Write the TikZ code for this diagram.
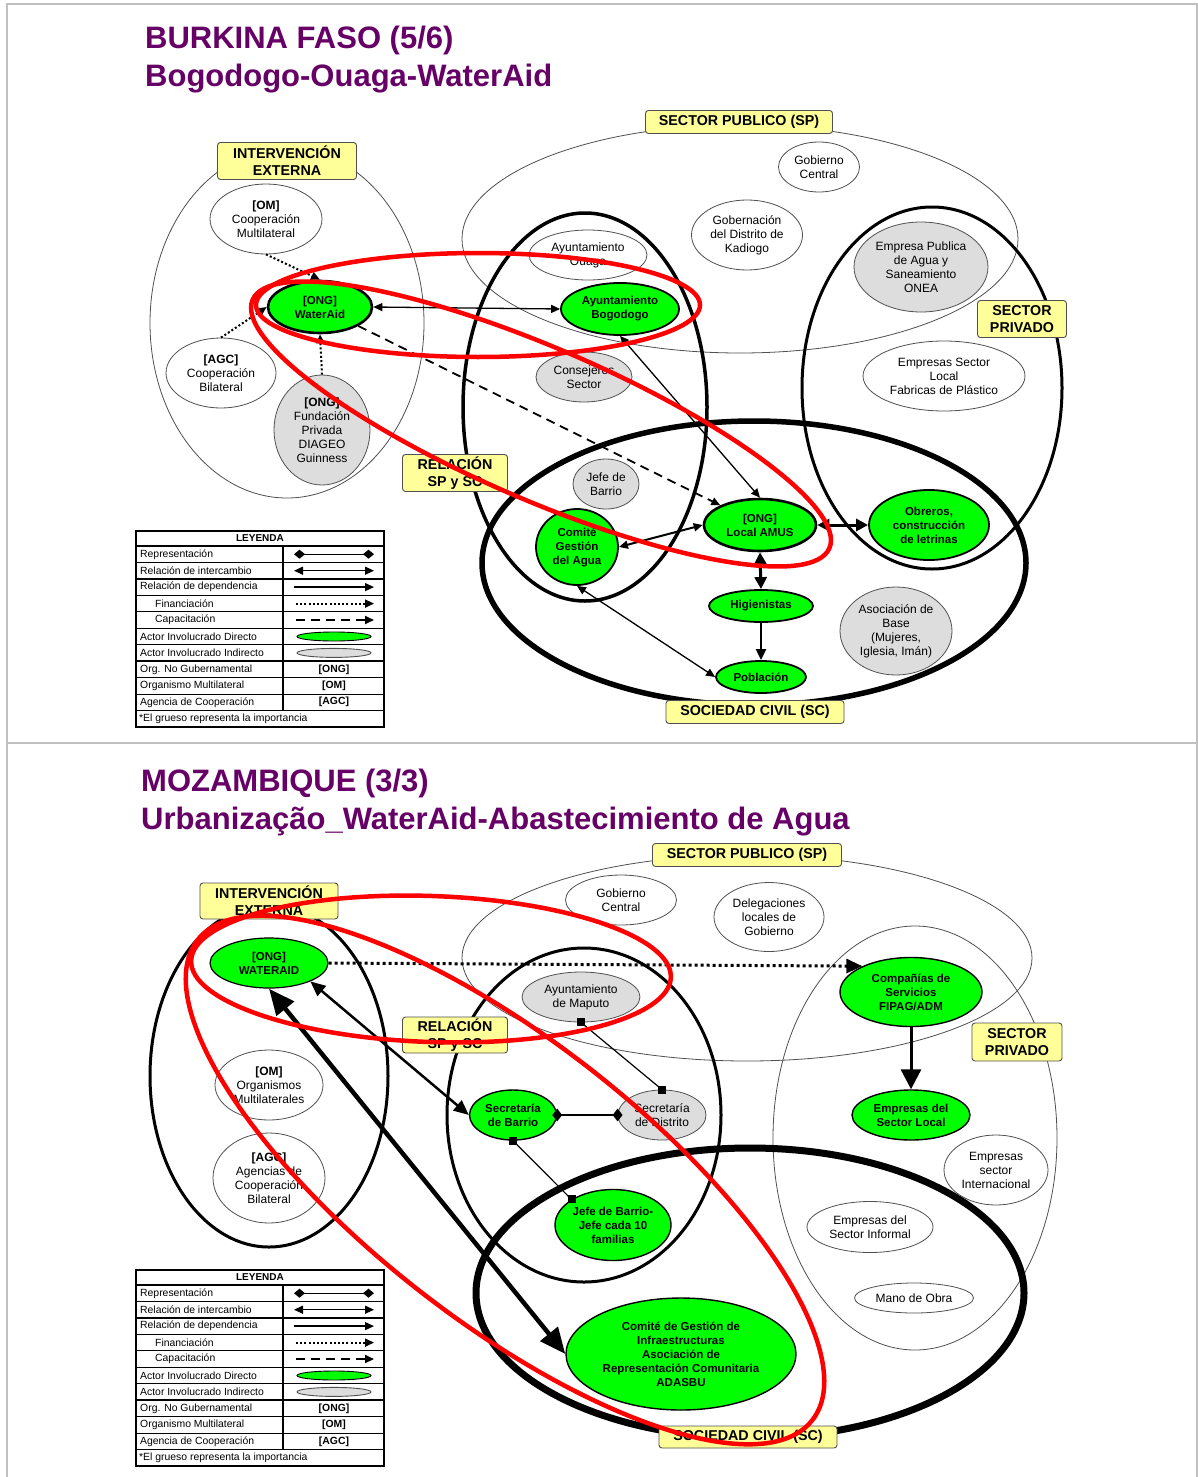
\documentclass[tikz,border=0pt]{standalone}
\usepackage{fontspec}
\setmainfont{Liberation Sans}
\usetikzlibrary{arrows.meta,shapes.geometric}
\definecolor{morado}{HTML}{660066}
\definecolor{verde}{HTML}{00FF00}
\definecolor{grisnodo}{HTML}{DDDDDD}
\definecolor{amarillo}{HTML}{FFFF99}
\definecolor{rojo}{HTML}{FF0000}
\definecolor{marco}{HTML}{C0C0C0}
\definecolor{borde}{HTML}{505050}

\tikzset{
  tam/.style 2 args={minimum width=#1pt,minimum height=#2pt},
  actor/.style={ellipse,inner sep=0pt,align=center,font=\fontsize{12}{14}\selectfont},
  directo/.style={actor,draw=black,line width=1.8pt,fill=verde,font=\fontsize{11.5}{14}\selectfont\bfseries},
  indirecto/.style={actor,draw=borde,line width=0.8pt,fill=grisnodo},
  neutro/.style={actor,draw=borde,line width=0.8pt,fill=white},
  etiqueta/.style={draw=borde,fill=amarillo,rounded corners=3pt,line width=0.9pt,inner sep=0pt,
    align=center,font=\fontsize{14.3}{16.7}\selectfont\bfseries},
  region/.style={draw=borde,line width=0.8pt},
  resalte/.style={draw=rojo,line width=4.5pt},
  titular/.style={text=morado,inner sep=0pt,font=\fontsize{31}{38}\selectfont\bfseries},
  leytxt/.style={inner sep=0pt,font=\fontsize{10.4}{12}\selectfont},
  interc/.style={{Triangle[length=9pt,width=8pt]}-{Triangle[length=9pt,width=8pt]},line width=1.3pt},
  depend/.style={-{Triangle[length=9pt,width=8pt]},line width=1.3pt},
  financ/.style={depend,line width=2pt,dash pattern=on 2pt off 2.2pt},
  capac/.style={depend,line width=1.8pt,dash pattern=on 9pt off 6pt},
  repres/.style={{Diamond[length=11pt,width=9pt]}-{Diamond[length=11pt,width=9pt]},line width=1.3pt},
  cuadro/.style={fill=black,minimum size=8pt,inner sep=0pt},
  rombo/.style={diamond,fill=black,minimum width=10pt,minimum height=13pt,inner sep=0pt},
}

\begin{document}
\begin{tikzpicture}[x=1pt,y=-1pt]
  \useasboundingbox (0,0) rectangle (1198,1477);
  \fill[white] (0,0) rectangle (1198,1477);

  % marco de las dos diapositivas
  \draw[marco,line width=1.5pt] (7,1477) -- (7,4) -- (1197,4) -- (1197,1477);
  \draw[marco,line width=1.5pt] (7,743) -- (1197,743);

  % ---------------- Burkina Faso ----------------
  \node[titular,anchor=base west] (tit1a) at (145,49) {BURKINA FASO (5/6)};
  \node[titular,anchor=base west] (tit1b) at (145,87) {Bogodogo-Ouaga-WaterAid};

  % regiones
  \draw[region] (287,323) ellipse [x radius=137pt,y radius=175pt];
  \draw[region] (740,239) ellipse [x radius=278pt,y radius=114pt];
  \draw[line width=3.5pt] (585,407) ellipse [x radius=122pt,y radius=194pt];
  \draw[line width=3pt] (932,388) ellipse [x radius=130pt,y radius=181pt];
  \draw[line width=5.5pt] (754,563) ellipse [x radius=272pt,y radius=142pt];

  % actores
  \node[neutro,tam={112}{70}] (om1) at (266,219) {\textbf{[OM]}\\Cooperación\\Multilateral};
  \node[directo,line width=2.6pt,tam={104}{52}] (wa1) at (320,307) {[ONG]\\WaterAid};
  \node[neutro,tam={110}{70}] (agc1) at (221,373) {\textbf{[AGC]}\\Cooperación\\Bilateral};
  \node[indirecto,tam={96}{110}] (fund1) at (322,430) {\textbf{[ONG]}\\Fundación\\Privada\\DIAGEO\\Guinness};
  \node[neutro,tam={118}{50}] (ouaga) at (588,255) {Ayuntamiento\\Ouaga};
  \node[neutro,tam={81}{50}] (gobc1) at (819,167) {Gobierno\\Central};
  \node[neutro,tam={111}{70}] (kadiogo) at (747,235) {Gobernación\\del Distrito de\\Kadiogo};
  \node[indirecto,tam={134}{90}] (onea) at (921,267) {Empresa Publica\\de Agua y\\Saneamiento\\ONEA};
  \node[directo,tam={118}{52}] (bogo) at (620,309) {Ayuntamiento\\Bogodogo};
  \node[indirecto,tam={96}{50}] (consej) at (584,377) {Consejeros\\Sector};
  \node[neutro,tam={162}{70}] (eslocal) at (944,376) {Empresas Sector\\Local\\Fabricas de Plástico};
  \node[indirecto,tam={66}{50}] (jefe1) at (606,484) {Jefe de\\Barrio};
  \node[directo,tam={82}{76}] (comite) at (577,547) {Comité\\Gestión\\del Agua};
  \node[directo,line width=2.6pt,tam={112}{52}] (amus) at (760,525) {[ONG]\\Local AMUS};
  \node[directo,tam={120}{70}] (obreros) at (929,525) {Obreros,\\construcción\\de letrinas};
  \node[directo,tam={104}{32}] (hig) at (761,606) {Higienistas};
  \node[directo,tam={90}{32}] (pob) at (761,677) {Población};
  \node[indirecto,tam={112}{88}] (asoc) at (896,631) {Asociación de\\Base\\(Mujeres,\\Iglesia, Imán)};

  % relaciones
  \draw[financ] (om1.south) -- (wa1.north);
  \draw[financ] (agc1.north) -- (wa1.west);
  \draw[financ] (fund1.north) -- (wa1.south);
  \draw[interc] (wa1.east) -- (bogo.west);
  \draw[capac] (wa1) -- (amus);
  \draw[interc] (bogo.south) -- (amus.north);
  \draw[interc,line width=2pt] (comite.east) -- (amus.west);
  \draw[interc,line width=3pt,{Triangle[length=12pt,width=12pt]}-{Triangle[length=12pt,width=12pt]}] (amus.east) -- (obreros.west);
  \draw[interc,line width=3pt,{Triangle[length=12pt,width=12pt]}-{Triangle[length=12pt,width=12pt]}] (amus.south) -- (hig.north);
  \draw[depend,line width=2pt,-{Triangle[length=11pt,width=10pt]}] (hig.south) -- (pob.north);
  \draw[interc] (comite.south) -- (pob.west);

  % etiquetas de region
  \node[etiqueta,minimum width=139pt,minimum height=37pt] (lie1) at (287,161) {INTERVENCIÓN\\EXTERNA};
  \node[etiqueta,minimum width=187pt,minimum height=23pt] (lsp1) at (739,122) {SECTOR PUBLICO (SP)};
  \node[etiqueta,minimum width=89pt,minimum height=37pt] (lspr1) at (1022,319) {SECTOR\\PRIVADO};
  \node[etiqueta,minimum width=105pt,minimum height=37pt] (lrel1) at (455,473) {RELACIÓN\\SP y SC};
  \node[etiqueta,minimum width=178pt,minimum height=23pt] (lsc1) at (755,712) {SOCIEDAD CIVIL (SC)};

  % resaltes en rojo
  \draw[resalte] (478,305) ellipse [x radius=222pt,y radius=52pt];
  \draw[resalte,rotate around={-23.3:(541,424)}] (541,424) ellipse [x radius=314pt,y radius=76pt];

  % ---------------- Mozambique ----------------
  \node[titular,anchor=base west] (tit2a) at (141,791) {MOZAMBIQUE (3/3)};
  \node[titular,anchor=base west] (tit2b) at (141,829) {Urbanização\_WaterAid-Abastecimiento de Agua};

  % regiones
  \draw[line width=3pt] (269,1076) ellipse [x radius=119pt,y radius=171pt];
  \draw[region] (747,958) ellipse [x radius=285pt,y radius=103pt];
  \draw[line width=3pt] (584,1115) ellipse [x radius=137pt,y radius=167pt];
  \draw[region] (915,1138) ellipse [x radius=142pt,y radius=212pt];
  \draw[line width=7pt] (750,1293) ellipse [x radius=274pt,y radius=145pt];

  % actores
  \node[directo,line width=1.2pt,tam={118}{50}] (wa2) at (269,963) {[ONG]\\WATERAID};
  \node[neutro,tam={108}{70}] (om2) at (269,1085) {\textbf{[OM]}\\Organismos\\Multilaterales};
  \node[neutro,tam={112}{90}] (agc2) at (269,1178) {\textbf{[AGC]}\\Agencias de\\Cooperación\\Bilateral};
  \node[neutro,tam={111}{50}] (gobc2) at (621,900) {Gobierno\\Central};
  \node[neutro,tam={110}{69}] (deleg) at (769,917) {Delegaciones\\locales de\\Gobierno};
  \node[indirecto,tam={118}{50}] (maputo) at (581,997) {Ayuntamiento\\de Maputo};
  \node[directo,line width=1.4pt,tam={142}{69}] (comp) at (911,992) {Compañías de\\Servicios\\FIPAG/ADM};
  \node[directo,line width=1.4pt,tam={87}{50}] (sbar) at (513,1115) {Secretaría\\de Barrio};
  \node[indirecto,tam={88}{50}] (sdis) at (662,1115) {Secretaría\\de Distrito};
  \node[directo,line width=1.4pt,tam={118}{50}] (elocal) at (911,1115) {Empresas del\\Sector Local};
  \node[neutro,tam={104}{70}] (einter) at (996,1170) {Empresas\\sector\\Internacional};
  \node[directo,line width=1.4pt,tam={116}{71}] (jefe2) at (613,1225) {Jefe de Barrio-\\Jefe cada 10\\familias};
  \node[neutro,tam={126}{51}] (einf) at (870,1227) {Empresas del\\Sector Informal};
  \node[neutro,tam={119}{30}] (mano) at (914,1298) {Mano de Obra};
  \node[directo,line width=1.4pt,tam={230}{112}] (adasbu) at (681,1354)
       {Comité de Gestión de\\Infraestructuras\\Asociación de\\Representación Comunitaria\\ADASBU};

  % relaciones
  \draw[financ,line width=3pt,dash pattern=on 3pt off 3pt,-{Triangle[length=16pt,width=14pt]}] (wa2.east) -- (comp.152);
  \draw[depend,line width=3pt,-{Triangle[length=20pt,width=20pt]}] (comp.south) -- (elocal.north);
  \draw[interc,line width=2.5pt,{Triangle[length=15pt,width=13pt]}-{Triangle[length=15pt,width=13pt]}] (wa2.-24) -- (sbar.west);
  \draw[line width=4.5pt,{Triangle[length=26pt,width=22pt]}-{Triangle[length=26pt,width=22pt]}] (wa2.south) -- (adasbu.west);
  \node[cuadro] (q1) at (maputo.south) {};
  \node[cuadro] (q2) at (sdis.north) {};
  \node[cuadro] (q3) at (sbar.south) {};
  \node[cuadro] (q4) at (jefe2.north west) {};
  \node[rombo] (r1) at (sbar.east) {};
  \node[rombo] (r2) at (sdis.west) {};
  \draw[line width=1.2pt] (q1.center) -- (q2.center);
  \draw[line width=1.2pt] (q3.center) -- (q4.center);
  \draw[line width=1.3pt] (r1.center) -- (r2.center);

  % etiquetas de region
  \node[etiqueta,minimum width=138pt,minimum height=36pt] (lie2) at (269,901) {INTERVENCIÓN\\EXTERNA};
  \node[etiqueta,minimum width=189pt,minimum height=23pt] (lsp2) at (747,855) {SECTOR PUBLICO (SP)};
  \node[etiqueta,minimum width=90pt,minimum height=38pt] (lspr2) at (1017,1042) {SECTOR\\PRIVADO};
  \node[etiqueta,minimum width=105pt,minimum height=36pt] (lrel2) at (455,1035) {RELACIÓN\\SP y SC};
  \node[etiqueta,minimum width=178pt,minimum height=22pt] (lsc2) at (748,1437) {SOCIEDAD CIVIL (SC)};

  % resaltes en rojo
  \draw[resalte,rotate around={-2:(431,969)}] (431,969) ellipse [x radius=240pt,y radius=73pt];
  \draw[resalte,rotate around={-38:(505,1180)}] (505,1180) ellipse [x radius=390pt,y radius=140pt];

  % leyendas (una por diapositiva)
  \foreach \ly/\lp in {531/a,1270/b}{
    \draw[line width=1.8pt] (136,\ly) rectangle (384,\ly+196);
    \node[inner sep=0pt,font=\fontsize{10}{12}\selectfont\bfseries] (ley\lp-tit) at (260,\ly+7.5) {LEYENDA};
    \draw[line width=1.5pt] (136,\ly+15) -- (384,\ly+15);
    \draw[line width=1.5pt] (283,\ly+15) -- (283,\ly+179.5);
    \foreach \i in {1,2,5,7,10}
      \draw[line width=1.5pt] (136,\ly+15+16.45*\i) -- (384,\ly+15+16.45*\i);
    \foreach \i in {3,4,6,8,9}
      \draw[line width=0.7pt] (136,\ly+15+16.45*\i) -- (384,\ly+15+16.45*\i);
    \foreach \i/\txt/\xi in {1/Representación/140,2/Relación de intercambio/140,3/Relación de dependencia/140,4/Financiación/155,5/Capacitación/155,6/Actor Involucrado Directo/140,7/Actor Involucrado Indirecto/140,8/Org. No Gubernamental/140,9/Organismo Multilateral/140,10/Agencia de Cooperación/140}
      \node[leytxt,anchor=west] (ley\lp\i) at (\xi,\ly+6.8+16.45*\i) {\txt};
    \node[leytxt,anchor=west] (ley\lp-pie) at (139,\ly+187.7) {*El grueso representa la importancia};
    \draw[repres] (294,\ly+23.2) -- (374,\ly+23.2);
    \draw[interc] (294,\ly+39.7) -- (374,\ly+39.7);
    \draw[depend] (294,\ly+56.1) -- (374,\ly+56.1);
    \draw[financ] (296,\ly+72.6) -- (374,\ly+72.6);
    \draw[capac] (296,\ly+89) -- (374,\ly+89);
    \draw[fill=verde,line width=0.9pt] (334,\ly+105.5) ellipse [x radius=37pt,y radius=4.5pt];
    \draw[fill=grisnodo,draw=borde,line width=0.9pt] (334,\ly+121.9) ellipse [x radius=37pt,y radius=4.5pt];
    \node[leytxt,font=\fontsize{10.4}{12}\selectfont\bfseries] (ley\lp-ong) at (334,\ly+138.4) {[ONG]};
    \node[leytxt,font=\fontsize{10.4}{12}\selectfont\bfseries] (ley\lp-om) at (334,\ly+154.8) {[OM]};
    \node[leytxt,font=\fontsize{10.4}{12}\selectfont\bfseries] (ley\lp-agc) at (334,\ly+171.3) {[AGC]};
  }
\end{tikzpicture}
\end{document}
